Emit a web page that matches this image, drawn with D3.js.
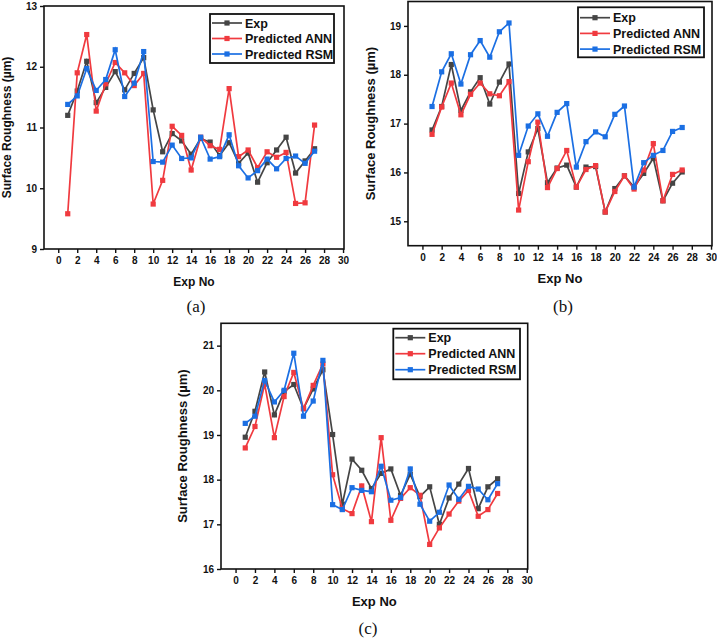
<!DOCTYPE html>
<html>
<head>
<meta charset="utf-8">
<script src="https://cdn.jsdelivr.net/npm/d3@7"></script>
<style>
  body { margin: 0; background: #fff; }
  svg { display: block; font-family: "Liberation Sans", Arial, sans-serif; }
  .tick text { font-weight: bold; font-size: 10px; fill: #111; }
</style>
</head>
<body>
<svg id="chart" width="717" height="638"></svg>
<script>
// experiment numbers
const expNo = [1, 2, 3, 4, 5, 6, 7, 8, 9, 10, 11, 12, 13, 14, 15, 16, 17, 18, 19, 20, 21, 22, 23, 24, 25, 26, 27]
const xTicks = [0, 2, 4, 6, 8, 10, 12, 14, 16, 18, 20, 22, 24, 26, 28, 30]

// (a)
const expA = [11.20, 11.60, 12.09, 11.41, 11.66, 11.92, 11.62, 11.89, 12.15, 11.29, 10.60, 10.90, 10.78, 10.56, 10.82, 10.76, 10.54, 10.75, 10.41, 10.58, 10.10, 10.42, 10.63, 10.84, 10.25, 10.45, 10.65]
const annA = [9.58, 11.90, 12.53, 11.27, 11.72, 12.07, 11.90, 11.69, 11.89, 9.74, 10.13, 11.02, 10.87, 10.30, 10.84, 10.70, 10.64, 11.64, 10.52, 10.63, 10.34, 10.60, 10.51, 10.59, 9.75, 9.76, 11.04]
const rsmA = [11.38, 11.52, 11.97, 11.61, 11.79, 12.28, 11.51, 11.73, 12.25, 10.44, 10.43, 10.71, 10.49, 10.50, 10.84, 10.48, 10.52, 10.88, 10.37, 10.17, 10.29, 10.48, 10.32, 10.49, 10.53, 10.41, 10.61]
const yTicksA = [9, 10, 11, 12, 13]

// (b)
const expB = [16.87, 17.35, 18.21, 17.27, 17.65, 17.94, 17.40, 17.85, 18.22, 15.57, 16.42, 16.90, 15.79, 16.09, 16.15, 15.70, 16.11, 16.12, 15.19, 15.67, 15.93, 15.70, 15.98, 16.29, 15.42, 15.78, 16.01]
const annB = [16.78, 17.34, 17.83, 17.18, 17.60, 17.83, 17.61, 17.57, 17.86, 15.23, 16.22, 17.03, 15.69, 16.08, 16.45, 15.70, 16.06, 16.14, 15.19, 15.61, 15.93, 15.66, 16.05, 16.59, 15.42, 15.96, 16.05]
const rsmB = [17.35, 18.06, 18.43, 17.81, 18.41, 18.70, 18.36, 18.88, 19.06, 16.35, 16.95, 17.20, 16.74, 17.23, 17.41, 16.11, 16.63, 16.83, 16.73, 17.19, 17.36, 15.70, 16.20, 16.35, 16.45, 16.84, 16.92]
const yTicksB = [15, 16, 17, 18, 19]

// (c)
const expC = [18.95, 19.53, 20.41, 19.45, 19.97, 20.13, 19.59, 20.03, 20.46, 19.01, 17.45, 18.46, 18.21, 17.80, 18.14, 18.24, 17.65, 18.12, 17.62, 17.84, 17.00, 17.59, 17.90, 18.25, 17.35, 17.84, 18.02]
const annC = [18.71, 19.19, 20.14, 18.94, 19.86, 20.40, 19.59, 20.11, 20.59, 18.11, 17.35, 17.24, 17.86, 17.06, 18.94, 17.09, 17.58, 17.82, 17.65, 16.55, 16.92, 17.23, 17.52, 17.76, 17.18, 17.33, 17.69]
const rsmC = [19.26, 19.42, 20.22, 19.74, 20.00, 20.83, 19.42, 19.76, 20.67, 17.44, 17.33, 17.82, 17.76, 17.73, 18.30, 17.54, 17.60, 18.24, 17.45, 17.07, 17.27, 17.88, 17.56, 17.85, 17.79, 17.55, 17.91]
const yTicksC = [16, 17, 18, 19, 20, 21]

const seriesNames = ["Exp", "Predicted ANN", "Predicted RSM"]
const colors = ["#454545", "#f03a3f", "#1b6fe3"]

const svg = d3.select("#chart")

function drawPanel(p) {
  const x = d3.scaleLinear().domain([-1.5, 30.1]).range([p.left, p.right])
  const y = d3.scaleLinear().domain(p.yDomain).range([p.bottom, p.top])
  const g = svg.append("g")

  // frame
  g.append("rect")
    .attr("x", p.left).attr("y", p.top)
    .attr("width", p.right - p.left).attr("height", p.bottom - p.top)
    .attr("fill", "none").attr("stroke", "#111").attr("stroke-width", 1.6)

  const xAxis = g.append("g")
    .attr("transform", `translate(0,${p.bottom})`)
    .call(d3.axisBottom(x).tickValues(xTicks).tickFormat(d3.format("d")).tickSize(4).tickPadding(4))
  const yAxis = g.append("g")
    .attr("transform", `translate(${p.left},0)`)
    .call(d3.axisLeft(y).tickValues(p.yTicks).tickFormat(d3.format("d")).tickSize(4).tickPadding(3))
  ;[xAxis, yAxis].forEach(a => {
    a.select(".domain").remove()
    a.selectAll(".tick line").attr("stroke", "#111").attr("stroke-width", 1.4)
  })

  // series: exp, ann, rsm (rsm on top)
  p.series.forEach((vals, k) => {
    const pts = expNo.map((n, i) => [n, vals[i]])
    g.append("path")
      .datum(pts)
      .attr("fill", "none")
      .attr("stroke", colors[k])
      .attr("stroke-width", 1.7)
      .attr("d", d3.line().x(d => x(d[0])).y(d => y(d[1])))
    g.selectAll(null)
      .data(pts)
      .enter().append("rect")
      .attr("x", d => x(d[0]) - 2.6)
      .attr("y", d => y(d[1]) - 2.6)
      .attr("width", 5.2).attr("height", 5.2)
      .attr("fill", colors[k])
  })

  // legend
  const lg = p.legend
  g.append("rect")
    .attr("x", lg.x0).attr("y", lg.y0)
    .attr("width", lg.x1 - lg.x0).attr("height", lg.y1 - lg.y0)
    .attr("fill", "#fff").attr("stroke", "#111").attr("stroke-width", 1.8)
  seriesNames.forEach((name, k) => {
    const yy = lg.y0 + lg.first + k * lg.step
    g.append("line")
      .attr("x1", lg.x0 + 2).attr("x2", lg.x0 + 32)
      .attr("y1", yy).attr("y2", yy)
      .attr("stroke", colors[k]).attr("stroke-width", 1.7)
    g.append("rect")
      .attr("x", lg.x0 + 17 - 2.6).attr("y", yy - 2.6)
      .attr("width", 5.2).attr("height", 5.2)
      .attr("fill", colors[k])
    g.append("text")
      .attr("x", lg.x0 + 35).attr("y", yy + 4.5)
      .attr("font-size", 12.5).attr("font-weight", "bold").attr("fill", "#111")
      .text(name)
  })

  // axis titles
  g.append("text")
    .attr("x", (p.left + p.right) / 2).attr("y", p.xTitleY)
    .attr("text-anchor", "middle")
    .attr("font-size", p.titleSize).attr("font-weight", "bold").attr("fill", "#111")
    .text("Exp No")
  g.append("text")
    .attr("transform", `translate(${p.yTitleX},${(p.top + p.bottom) / 2}) rotate(-90)`)
    .attr("text-anchor", "middle")
    .attr("font-size", p.titleSize).attr("font-weight", "bold").attr("fill", "#111")
    .text("Surface Roughness (µm)")

  // caption
  svg.append("text")
    .attr("x", p.capX).attr("y", p.capY)
    .attr("text-anchor", "middle")
    .attr("font-family", "'Liberation Serif', 'Times New Roman', serif")
    .attr("font-size", 17).attr("fill", "#111")
    .text(p.caption)
}

drawPanel({
  left: 44, right: 344, top: 6, bottom: 249,
  yDomain: [9, 13], yTicks: yTicksA,
  series: [expA, annA, rsmA],
  legend: { x0: 210, x1: 334, y0: 14, y1: 63, first: 9, step: 15.5 },
  titleSize: 12, xTitleY: 286, yTitleX: 11,
  caption: "(a)", capX: 196, capY: 312
})

drawPanel({
  left: 408, right: 712, top: 1.5, bottom: 245.7,
  yDomain: [14.5, 19.5], yTicks: yTicksB,
  series: [expB, annB, rsmB],
  legend: { x0: 578, x1: 704, y0: 7.3, y1: 57.3, first: 10.4, step: 15.7 },
  titleSize: 13, xTitleY: 283, yTitleX: 375,
  caption: "(b)", capX: 563, capY: 312
})

drawPanel({
  left: 221, right: 527.7, top: 323.3, bottom: 569,
  yDomain: [16, 21.5], yTicks: yTicksC,
  series: [expC, annC, rsmC],
  legend: { x0: 393.3, x1: 520, y0: 328.7, y1: 379.3, first: 9, step: 16 },
  titleSize: 13, xTitleY: 606, yTitleX: 187,
  caption: "(c)", capX: 368, capY: 634
})
</script>
</body>
</html>
